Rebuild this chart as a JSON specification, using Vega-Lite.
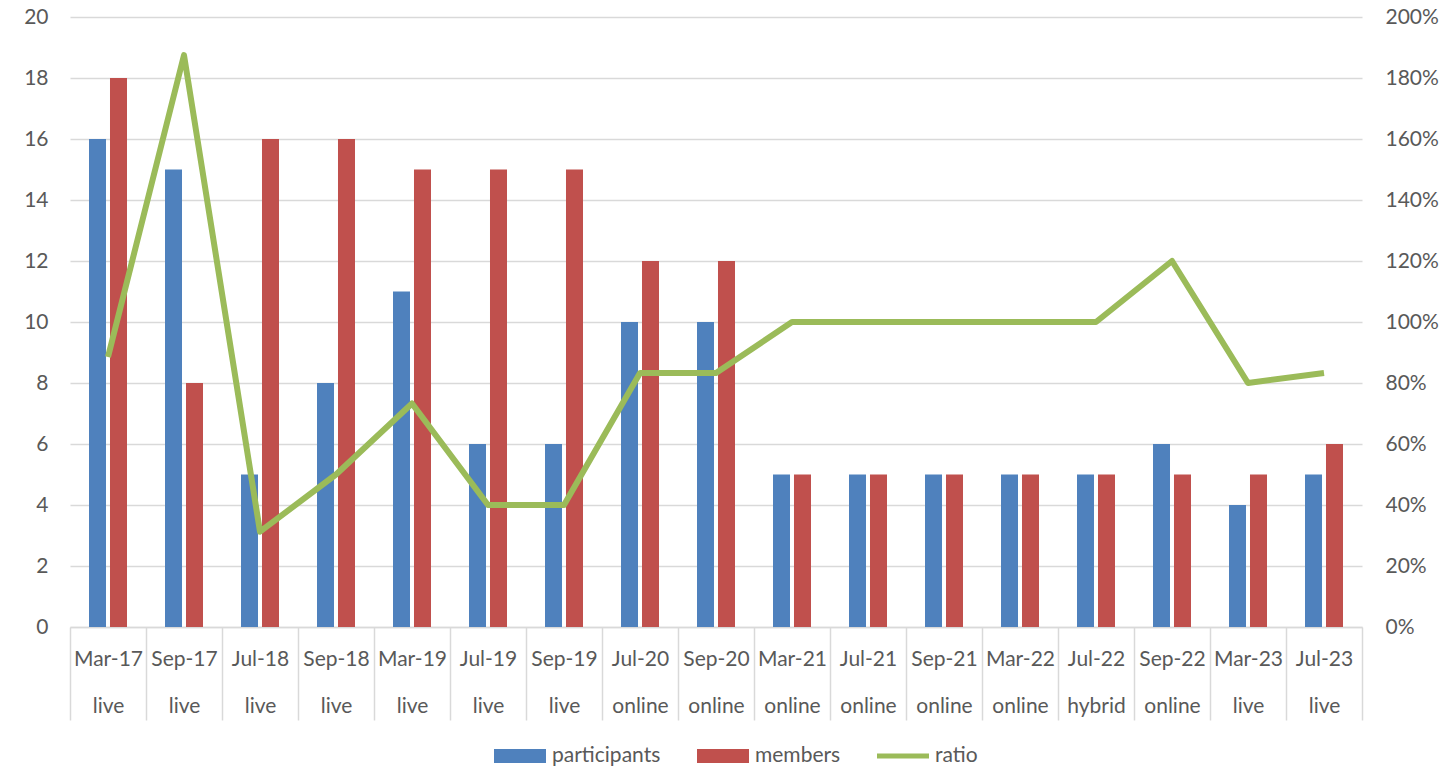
{
  "$schema": "https://vega.github.io/schema/vega-lite/v6.json",
  "width": 1292,
  "height": 610,
  "autosize": {"type": "none"},
  "padding": {"left": 70, "top": 17, "right": 78, "bottom": 145},
  "background": "white",
  "config": {
    "view": {"stroke": null},
    "font": "Lato",
    "axis": {"labelFont": "Lato", "labelColor": "#595959", "labelFontSize": 21, "titleFont": "Lato"},
    "legend": {"labelFont": "Lato", "labelColor": "#595959", "labelFontSize": 21}
  },
  "data": {
    "values": [
      {"cat": "Mar-17|live", "participants": 16, "members": 18, "ratio": 0.885},
      {"cat": "Sep-17|live", "participants": 15, "members": 8, "ratio": 1.875},
      {"cat": "Jul-18|live", "participants": 5, "members": 16, "ratio": 0.3125},
      {"cat": "Sep-18|live", "participants": 8, "members": 16, "ratio": 0.5},
      {"cat": "Mar-19|live", "participants": 11, "members": 15, "ratio": 0.733},
      {"cat": "Jul-19|live", "participants": 6, "members": 15, "ratio": 0.4},
      {"cat": "Sep-19|live", "participants": 6, "members": 15, "ratio": 0.4},
      {"cat": "Jul-20|online", "participants": 10, "members": 12, "ratio": 0.833},
      {"cat": "Sep-20|online", "participants": 10, "members": 12, "ratio": 0.833},
      {"cat": "Mar-21|online", "participants": 5, "members": 5, "ratio": 1.0},
      {"cat": "Jul-21|online", "participants": 5, "members": 5, "ratio": 1.0},
      {"cat": "Sep-21|online", "participants": 5, "members": 5, "ratio": 1.0},
      {"cat": "Mar-22|online", "participants": 5, "members": 5, "ratio": 1.0},
      {"cat": "Jul-22|hybrid", "participants": 5, "members": 5, "ratio": 1.0},
      {"cat": "Sep-22|online", "participants": 6, "members": 5, "ratio": 1.2},
      {"cat": "Mar-23|live", "participants": 4, "members": 5, "ratio": 0.8},
      {"cat": "Jul-23|live", "participants": 5, "members": 6, "ratio": 0.833}
    ]
  },
  "encoding": {
    "x": {
      "field": "cat",
      "type": "nominal",
      "sort": null,
      "scale": {"paddingInner": 0, "paddingOuter": 0},
      "axis": {
        "title": null,
        "labelAngle": 0,
        "labelExpr": "isString(datum.value) ? split(datum.value, '|') : ''",
        "labelLineHeight": 47,
        "labelBaseline": "middle",
        "labelPadding": -61,
        "labelOverlap": false,
        "tickBand": "extent",
        "tickSize": 93,
        "tickColor": "#D9D9D9",
        "tickWidth": 1.5,
        "domainColor": "#D9D9D9",
        "domainWidth": 1.5,
        "grid": false
      }
    }
  },
  "layer": [
    {
      "transform": [{"fold": ["participants", "members"], "as": ["series", "value"]}],
      "mark": {"type": "bar"},
      "encoding": {
        "xOffset": {
          "field": "series",
          "type": "nominal",
          "sort": ["participants", "members"],
          "scale": {"domain": ["participants", "members"], "paddingInner": 0.19, "paddingOuter": 0.905}
        },
        "y": {
          "field": "value",
          "type": "quantitative",
          "scale": {"domain": [0, 20], "nice": false},
          "axis": {
            "title": null,
            "values": [0, 2, 4, 6, 8, 10, 12, 14, 16, 18, 20],
            "domain": false,
            "ticks": false,
            "labelPadding": 22,
            "gridColor": "#D9D9D9",
            "gridWidth": 1.5
          }
        },
        "color": {
          "field": "series",
          "type": "nominal",
          "scale": {"domain": ["participants", "members", "ratio"], "range": ["#4F81BD", "#C0504D", "#9BBB59"]},
          "legend": {
            "title": null,
            "orient": "none",
            "legendX": 424,
            "legendY": 713,
            "direction": "horizontal",
            "labelOffset": 6,
            "columnPadding": 36,
            "symbolSize": 2704,
            "encode": {
              "symbols": {
                "update": {
                  "shape": {"signal": "datum.value === 'ratio' ? 'M-1,-0.1L1,-0.1L1,0.1L-1,0.1Z' : 'M-1,-0.27L1,-0.27L1,0.27L-1,0.27Z'"},
                  "fill": {"scale": "color", "field": "value"},
                  "strokeWidth": {"value": 0},
                  "opacity": {"value": 1}
                }
              }
            }
          }
        }
      }
    },
    {
      "mark": {"type": "line", "strokeWidth": 6, "strokeJoin": "round"},
      "encoding": {
        "y": {
          "field": "ratio",
          "type": "quantitative",
          "scale": {"domain": [0, 2], "nice": false},
          "axis": {
            "title": null,
            "orient": "right",
            "format": ".0%",
            "values": [0, 0.2, 0.4, 0.6, 0.8, 1.0, 1.2, 1.4, 1.6, 1.8, 2.0],
            "domain": false,
            "ticks": false,
            "grid": false,
            "labelPadding": 23
          }
        },
        "color": {"datum": "ratio", "type": "nominal"}
      }
    }
  ],
  "resolve": {"scale": {"y": "independent"}}
}
